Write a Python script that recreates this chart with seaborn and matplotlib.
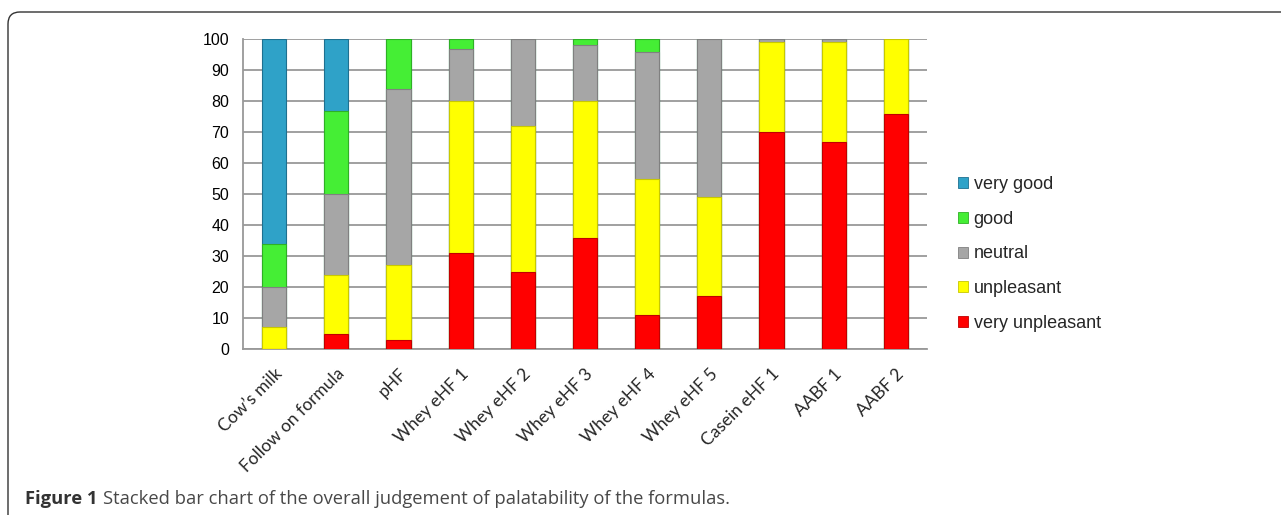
import matplotlib
matplotlib.use("Agg")
import matplotlib.pyplot as plt
import seaborn as sns
import numpy as np
from matplotlib.patches import Patch, FancyBboxPatch
from matplotlib.ticker import FixedLocator, MultipleLocator

categories = ["Cow\u2019s milk", "Follow on formula", "pHF", "Whey eHF 1", "Whey eHF 2",
              "Whey eHF 3", "Whey eHF 4", "Whey eHF 5", "Casein eHF 1", "AABF 1", "AABF 2"]
very_unpleasant = [0, 5, 3, 31, 25, 36, 11, 17, 70, 67, 76]
unpleasant      = [7, 19, 24, 49, 47, 44, 44, 32, 29, 32, 24]
neutral         = [13, 26, 57, 17, 28, 18, 41, 51, 1, 1, 0]
good            = [14, 27, 16, 3, 0, 2, 4, 0, 0, 0, 0]
very_good       = [66, 23, 0, 0, 0, 0, 0, 0, 0, 0, 0]

series_names = ["very unpleasant", "unpleasant", "neutral", "good", "very good"]
series_vals = [very_unpleasant, unpleasant, neutral, good, very_good]
colors = {"very unpleasant": "#FF0000", "unpleasant": "#FFFF00", "neutral": "#A6A6A6",
          "good": "#45EE35", "very good": "#2FA2C8"}
edges = {"very unpleasant": "#C00000", "unpleasant": "#C8C800", "neutral": "#808080",
         "good": "#2FB025", "very good": "#1E7090"}

sns.set_style("white")
plt.rcParams["font.family"] = ["Liberation Sans", "DejaVu Sans"]

fig = plt.figure(figsize=(12.81, 5.15), dpi=100)
ax = fig.add_axes([243/1281, 1-349/515, (927-243)/1281, (349-39.3)/515])

cum = np.cumsum(np.array(series_vals), axis=0)
for i in reversed(range(len(series_names))):
    name = series_names[i]
    sns.barplot(x=categories, y=cum[i], color=colors[name], saturation=1,
                width=0.39, edgecolor=edges[name], linewidth=0.8, ax=ax, zorder=3)

ax.set_xlim(-0.5, len(categories) - 0.5)
ax.set_ylim(0, 100)
ax.yaxis.set_major_locator(MultipleLocator(10))
ax.grid(axis="y", color="#999999", linewidth=1.3, zorder=0)
ax.set_axisbelow(True)
for s in ["top", "right"]:
    ax.spines[s].set_visible(False)
for s in ["left", "bottom"]:
    ax.spines[s].set_color("#999999")
    ax.spines[s].set_linewidth(1.3)

ax.tick_params(axis="y", direction="out", length=5, width=1.3, color="#999999",
               labelsize=11.5, pad=5, labelcolor="black")
ax.tick_params(axis="x", which="major", length=0, pad=12)
ax.xaxis.set_minor_locator(FixedLocator(np.arange(-0.5, len(categories), 1.0)))
ax.tick_params(axis="x", which="minor", direction="out", length=6, width=1.3, color="#999999")
ax.set_xticks(range(len(categories)))
ax.set_xticklabels(categories, rotation=45, ha="right", rotation_mode="anchor",
                   fontsize=12.5, family=["Lato", "DejaVu Sans"])
ax.set_xlabel("")
ax.set_ylabel("")

handles = [Patch(facecolor=colors[n], edgecolor=edges[n], linewidth=0.6) for n in reversed(series_names)]
leg = fig.legend(handles, list(reversed(series_names)), loc="center left",
                 bbox_to_anchor=(942/1281, 1-254/515), frameon=False,
                 handlelength=0.55, handleheight=0.55, handletextpad=0.3,
                 labelspacing=0.98, fontsize=13)

box = FancyBboxPatch((0.08, -0.5), 13.5, 5.15-0.12+0.5,
                     boxstyle="round,pad=0,rounding_size=0.12",
                     transform=fig.dpi_scale_trans, facecolor="none",
                     edgecolor="#333333", linewidth=1.0)
fig.patches.append(box)

t1 = fig.text(25/1281, 1-504/515, "Figure 1", fontsize=13.2, fontweight="bold",
              family=["Open Sans", "DejaVu Sans"], color="#333333", va="baseline")
fig.canvas.draw()
bb = t1.get_window_extent()
fig.text(bb.x1/1281 + 0.004, 1-504/515,
         "Stacked bar chart of the overall judgement of palatability of the formulas.",
         fontsize=13.2, family=["Open Sans", "DejaVu Sans"], color="#484848", va="baseline")

fig.savefig("out.png", dpi=100)
